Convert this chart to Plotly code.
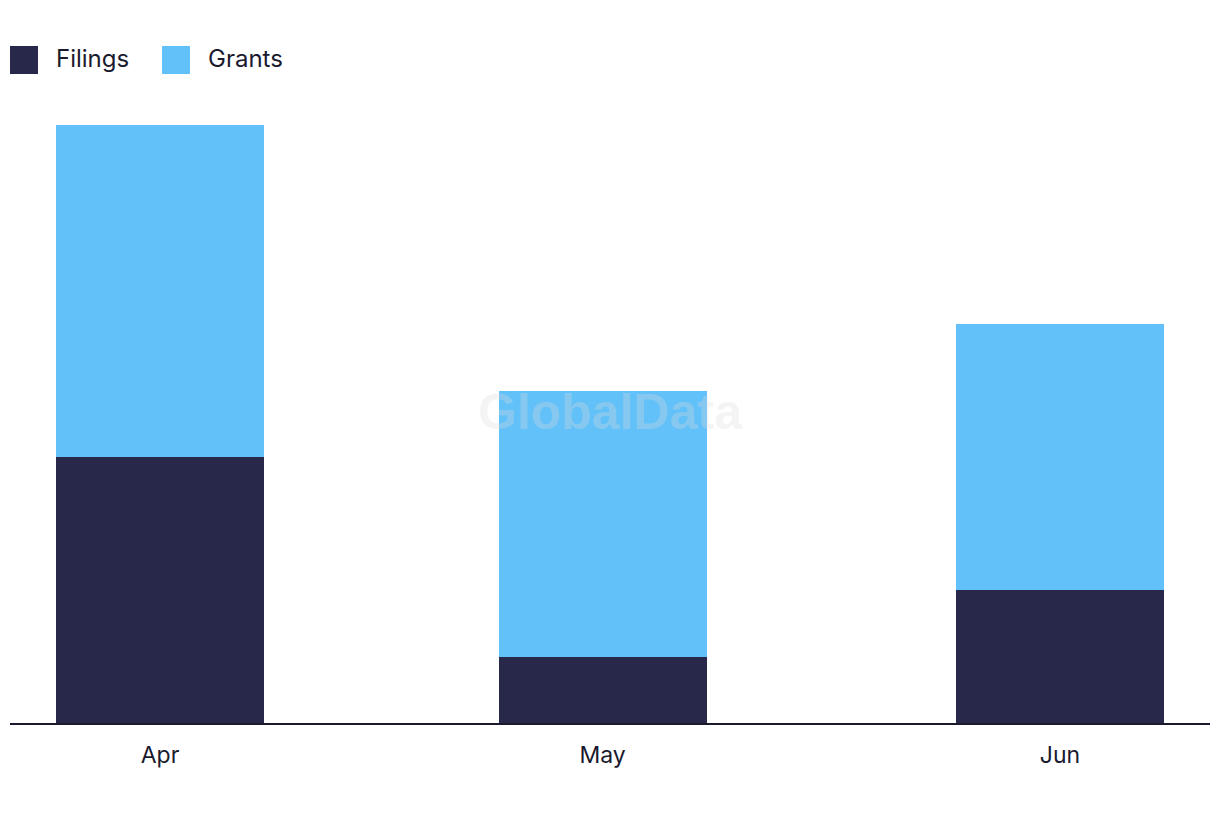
import plotly.graph_objects as go

months = ["Apr", "May", "Jun"]
month_dates = ["2024-04-01", "2024-05-01", "2024-06-01"]
filings = [4, 1, 2]
grants = [5, 4, 4]
series_names = ["Filings", "Grants"]
colors = ["#28284a", "#62c1f8"]

bar_width_ms = 14.1 * 86400000

fig = go.Figure()
fig.add_trace(go.Bar(x=month_dates, y=filings, name=series_names[0], marker_color=colors[0],
                     width=bar_width_ms, showlegend=False, marker_line_width=0))
fig.add_trace(go.Bar(x=month_dates, y=grants, name=series_names[1], marker_color=colors[1],
                     width=bar_width_ms, showlegend=False, marker_line_width=0))

# custom legend (large squares); page coords minus 8px body margin
PL, PT, PW, PH = 10, 58, 1200, 665
legend_x = [10, 162]
for i, name in enumerate(series_names):
    x0 = legend_x[i]
    fig.add_shape(type="rect", xref="paper", yref="paper",
                  x0=(x0 - PL) / PW, x1=(x0 + 28 - PL) / PW,
                  y0=(PT + PH - 74) / PH, y1=(PT + PH - 46) / PH,
                  fillcolor=colors[i], line_width=0)
    fig.add_annotation(text=name, xref="paper", yref="paper",
                       x=(x0 + 44 - PL) / PW, y=(PT + PH - 58) / PH,
                       xanchor="left", yanchor="middle", showarrow=False,
                       font=dict(family="Inter", size=24, color="#1a1a2e"))

fig.add_annotation(text="<b>GlobalData</b>", xref="paper", yref="paper",
                   x=0.5, y=(PT + PH - 412) / PH, showarrow=False,
                   xanchor="center", yanchor="middle",
                   font=dict(family="Liberation Sans", size=50, color="rgba(220,220,220,0.3)"))

fig.update_layout(
    barmode="stack",
    width=1212, height=814,
    margin=dict(l=2, r=10, t=50, b=99),
    plot_bgcolor="white", paper_bgcolor="white",
    font=dict(family="Inter", color="#1a1a2e"),
)
fig.update_xaxes(type="date", range=["2024-03-21 20:00", "2024-06-11 04:00"],
                 tickvals=month_dates, ticktext=months,
                 tickfont=dict(size=23, family="Inter", color="#1a1a2e"),
                 showline=True, linecolor="#1a1a2e", linewidth=2,
                 ticks="outside", ticklen=10, tickcolor="rgba(0,0,0,0)",
                 showgrid=False, zeroline=False)
fig.update_yaxes(range=[0, 10], visible=False, showgrid=False)

fig.write_html("out.html")
